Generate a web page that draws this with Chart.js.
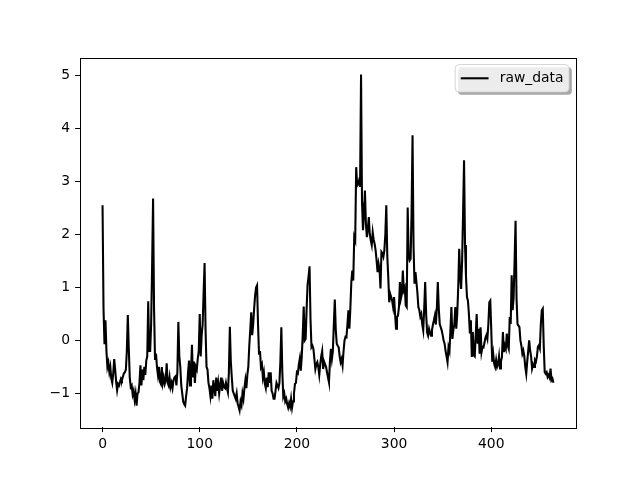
<!DOCTYPE html>
<html lang="en">
<head>
<meta charset="UTF-8">
<script src="https://cdn.jsdelivr.net/npm/chart.js@4.4.1/dist/chart.umd.min.js"></script>
<style>
  html, body { margin: 0; padding: 0; background: #fff; }
</style>
</head>
<body>
<canvas id="myChart" width="640" height="480"></canvas>
<script>
// data, one value per sample index
const seriesName = 'raw_data';
const rawData = [
  2.55, 0.6, -0.07, 0.38, -0.2, -0.5, -0.42, -0.6, -0.5, -0.72,
  -0.8, -0.62, -0.35, -0.55, -0.78, -0.94, -0.82, -0.85, -0.78, -0.72,
  -0.75, -0.68, -0.62, -0.6, -0.55, -0.2, 0.48, -0.15, -0.7, -0.88,
  -0.85, -1.02, -0.95, -1.12, -1.0, -1.23, -1.0, -0.98, -0.8, -0.47,
  -0.85, -0.55, -0.75, -0.5, -0.65, -0.38, -0.3, 0.74, -0.2, -0.2,
  0.3, 1.4, 2.68, 0.6, -0.35, -0.25, -0.5, -0.65, -0.5, -0.78,
  -0.82, -0.5, -0.8, -0.7, -0.82, -0.75, -0.43, -0.8, -0.85, -0.7,
  -0.88, -0.8, -0.9, -0.75, -0.7, -0.68, -0.85, -0.6, 0.35, -0.3,
  -0.5, -0.85, -1.0, -1.15, -1.2, -1.23, -1.05, -0.9, -0.6, -0.38,
  -0.85, -0.6, -0.08, -0.7, -0.4, -0.8, -0.5, -0.55, -0.34, -0.2,
  0.5, -0.3, 0.1, 0.3, 0.9, 1.46, 0.2, -0.5, -0.55, -0.8,
  -0.9, -1.05, -0.85, -1.1, -0.75, -0.9, -1.05, -0.7, -0.95, -0.8,
  -1.0, -0.85, -0.7, -0.95, -0.8, -0.88, -0.9, -0.8, -0.9, -0.98,
  -0.6, 0.26, -0.4, -0.7, -0.95, -1.0, -1.05, -1.1, -1.0, -1.19,
  -1.25, -1.32, -1.15, -1.22, -1.0, -1.1, -0.9, -0.75, -0.9, -0.65,
  -0.5, -0.1, 0.2, 0.53, 0.1, 0.3, 0.6, 0.85, 1.0, 1.04,
  0.3, -0.25, -0.2, -0.5, -0.45, -0.7, -0.6, -0.82, -0.9, -0.7,
  -0.88, -0.6, -0.8, -0.6, -0.95, -1.0, -1.1, -1.1, -0.95, -0.8,
  -0.85, -0.9, -0.8, -0.4, 0.25, -0.6, -1.06, -1.0, -1.15, -1.1,
  -1.2, -1.27, -1.18, -1.25, -1.1, -1.27, -1.15, -1.0, -0.82, -0.8,
  -0.6, -0.62, -0.45, -0.34, -0.57, -0.3, 0.1, 0.64, 0.0, 0.03,
  0.6, 1.06, 1.2, 1.4, 0.4, -0.13, -0.1, -0.16, -0.35, -0.54,
  -0.45, -0.41, -0.5, -0.65, -0.45, -0.3, -0.2, -0.54, -0.4, -0.45,
  -0.5, -0.6, -0.7, -0.79, -0.4, -0.16, -0.35, -0.2, 0.3, 0.77,
  0.2, -0.06, -0.1, -0.13, -0.3, -0.41, -0.35, -0.47, -0.2, 0.0,
  0.07, 0.06, 0.3, 0.57, 0.22, 0.6, 1.1, 1.32, 1.13, 1.95,
  1.89, 3.27, 2.92, 2.95, 3.02, 2.9, 5.02, 2.6, 2.08, 2.4,
  2.83, 2.2, 1.95, 2.1, 2.33, 2.0, 1.89, 1.8, 2.04, 1.9,
  1.82, 1.7, 1.51, 1.29, 1.45, 1.35, 0.98, 1.67, 1.64, 1.58,
  1.7, 2.0, 2.55, 1.6, 1.2, 0.72, 0.88, 0.82, 0.75, 0.63,
  0.82, 0.5, 0.22, 0.44, 0.47, 0.63, 1.1, 0.79, 0.88, 1.32,
  0.95, 1.0, 0.66, 0.63, 2.51, 1.6, 1.51, 1.54, 2.4, 3.87,
  1.8, 1.07, 1.29, 1.1, 0.9, 0.63, 0.57, 0.45, 0.5, 0.3,
  0.19, 0.6, 1.1, 0.5, 0.15, 0.09, 0.22, 0.15, 0.09, 0.2,
  0.3, 0.38, 0.47, 0.3, 0.6, 1.1, 0.6, 0.31, 0.25, 0.19,
  0.1, 0.0, -0.06, -0.2, -0.3, -0.41, -0.13, -0.2, 0.2, 0.63,
  0.03, 0.2, 0.3, 0.63, 0.22, 0.5, 1.0, 1.73, 1.2, 0.97,
  1.5, 2.4, 3.4, 1.8, 1.2, 0.82, 0.75, 0.5, 0.13, 0.38,
  -0.31, 0.16, -0.28, -0.3, 0.1, 0.5, -0.06, 0.22, -0.25, 0.25,
  -0.22, -0.12, -0.13, -0.05, 0.05, 0.1, 0.03, 0.3, 0.72, 0.75,
  0.2, -0.4, -0.25, -0.44, -0.5, -0.37, -0.5, -0.45, -0.3, -0.53,
  -0.4, -0.31, 0.16, -0.22, -0.1, -0.16, 0.13, -0.1, -0.16, 0.44,
  0.31, 1.23, 0.57, 0.8, 1.5, 2.26, 0.8, 0.31, 0.28, 0.25,
  0.0, -0.1, -0.25, -0.19, -0.3, -0.5, -0.63, -0.4, -0.2, 0.0,
  -0.19, -0.3, -0.53, -0.45, -0.5, -0.37, -0.4, -0.3, -0.12, -0.09,
  -0.15, 0.3, 0.57, 0.6, -0.1, -0.6, -0.63, -0.6, -0.69, -0.65,
  -0.7, -0.53, -0.75, -0.72, -0.8
];
const xTicks = [0, 100, 200, 300, 400];
const yTicks = [-1, 0, 1, 2, 3, 4, 5];

const FS = 13.9; // 10pt at 100 dpi
Chart.defaults.font.family = '"DejaVu Sans", sans-serif';
Chart.defaults.font.size = FS;
Chart.defaults.color = '#000';

// data limits with 5% margins, like matplotlib autoscale
const xMin = 0, xMax = rawData.length - 1;
const yMin = Math.min(...rawData), yMax = Math.max(...rawData);
const xPad = (xMax - xMin) * 0.05, yPad = (yMax - yMin) * 0.05;

function minus(v) { return String(v).replace('-', '\u2212'); }

function roundRect(ctx, x, y, w, h, r) {
  ctx.beginPath();
  ctx.moveTo(x + r, y);
  ctx.lineTo(x + w - r, y);
  ctx.arcTo(x + w, y, x + w, y + r, r);
  ctx.lineTo(x + w, y + h - r);
  ctx.arcTo(x + w, y + h, x + w - r, y + h, r);
  ctx.lineTo(x + r, y + h);
  ctx.arcTo(x, y + h, x, y + h - r, r);
  ctx.lineTo(x, y + r);
  ctx.arcTo(x, y, x + r, y, r);
  ctx.closePath();
}

// axes frame (all four spines) and the legend in the upper right
const frameAndLegend = {
  id: 'frameAndLegend',
  afterDraw(chart) {
    const { ctx, chartArea: a } = chart;
    ctx.save();
    ctx.strokeStyle = '#000';
    ctx.lineWidth = 1;
    ctx.strokeRect(Math.round(a.left) + 0.5, Math.round(a.top) + 0.5,
      Math.round(a.right - a.left), Math.round(a.bottom - a.top));

    ctx.font = FS + 'px "DejaVu Sans"';
    const tw = ctx.measureText(seriesName).width;
    const w = 0.4 * FS + 2 * FS + 0.8 * FS + tw + 0.4 * FS;
    const h = 27.5;
    const x = a.right - 0.5 * FS - w;
    const y = a.top + 0.5 * FS;
    const r = 4;
    // shadow
    roundRect(ctx, x + 2.8, y + 2.8, w, h, r);
    ctx.fillStyle = 'rgba(77,77,77,0.5)';
    ctx.fill();
    // frame
    roundRect(ctx, x, y, w, h, r);
    ctx.fillStyle = 'rgba(255,255,255,0.8)';
    ctx.fill();
    ctx.strokeStyle = 'rgba(204,204,204,0.8)';
    ctx.lineWidth = 1;
    ctx.stroke();
    // handle line
    const ly = y + h / 2;
    ctx.beginPath();
    ctx.moveTo(x + 0.4 * FS, ly);
    ctx.lineTo(x + 2.4 * FS, ly);
    ctx.strokeStyle = '#000';
    ctx.lineWidth = 2.08;
    ctx.stroke();
    ctx.fillStyle = '#000';
    ctx.textBaseline = 'middle';
    ctx.fillText(seriesName, x + 3.2 * FS, ly + 0.5);
    ctx.restore();
  }
};

const ctx = document.getElementById('myChart').getContext('2d');
const myChart = new Chart(ctx, {
  type: 'line',
  data: {
    datasets: [{
      label: seriesName,
      data: rawData.map((v, i) => ({ x: i, y: v })),
      borderColor: '#000',
      borderWidth: 2.08,
      pointRadius: 0,
      tension: 0,
      fill: false
    }]
  },
  options: {
    responsive: false,
    animation: false,
    devicePixelRatio: 1,
    layout: { padding: { left: 0, top: 57.6, right: 64, bottom: 0 } },
    plugins: {
      legend: { display: false },
      tooltip: { enabled: false }
    },
    scales: {
      x: {
        type: 'linear',
        min: xMin - xPad,
        max: xMax + xPad,
        afterBuildTicks: (s) => { s.ticks = xTicks.map(v => ({ value: v })); },
        afterFit: (s) => { s.height = 480 - 427.2; },
        grid: { drawOnChartArea: false, tickLength: 4.9, tickColor: '#000', lineWidth: 1 },
        border: { display: false },
        ticks: { padding: 4, maxRotation: 0, callback: (v) => minus(v) }
      },
      y: {
        min: yMin - yPad,
        max: yMax + yPad,
        afterBuildTicks: (s) => { s.ticks = yTicks.map(v => ({ value: v })); },
        afterFit: (s) => { s.width = 80; },
        grid: { drawOnChartArea: false, tickLength: 4.9, tickColor: '#000', lineWidth: 1 },
        border: { display: false },
        ticks: { padding: 5, callback: (v) => minus(v) }
      }
    }
  },
  plugins: [frameAndLegend]
});
</script>
</body>
</html>
